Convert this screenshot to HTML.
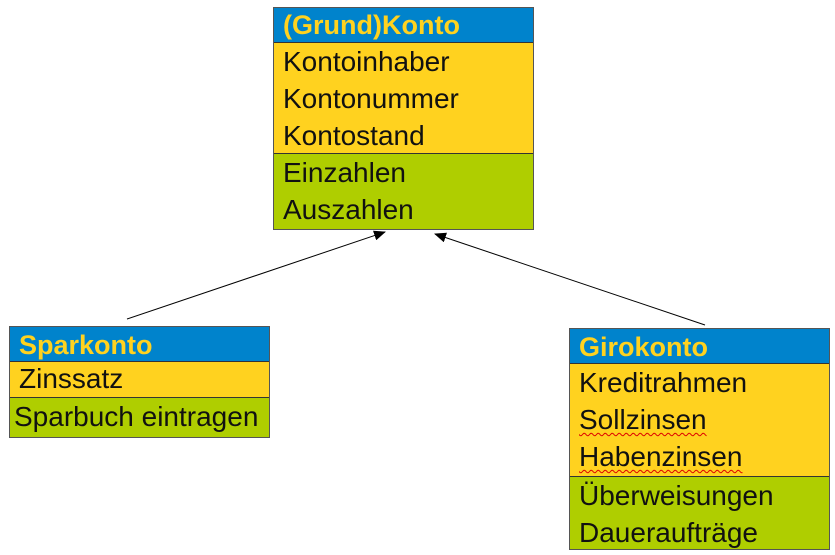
<!DOCTYPE html>
<html><head><meta charset="utf-8"><style>
body{margin:0;width:835px;height:555px;background:#fff;position:relative;overflow:hidden;font-family:"Liberation Sans",sans-serif}
.b{position:absolute;border:1.5px solid #555;box-sizing:border-box}
.r{position:absolute;left:0;right:0;box-sizing:border-box;padding-left:9px;font-size:28px;color:#111;white-space:nowrap}
.h{background:#0083cc;color:#ffd21f;font-weight:bold;border-bottom:1.5px solid #333;font-size:27px}
.y{background:#ffd21f;border-bottom:1.5px solid #333}
.g{background:#afce00}
.l{height:37px;line-height:37px}
.w{text-decoration:underline wavy #d00;text-decoration-thickness:1px;text-underline-offset:3px}
</style></head><body>
<svg width="835" height="555" style="position:absolute;left:0;top:0">
<defs><marker id="a" markerWidth="12" markerHeight="10" refX="11" refY="5" orient="auto" markerUnits="userSpaceOnUse"><path d="M0,0 L12,5 L0,10z" fill="#000"/></marker></defs>
<line x1="127" y1="319" x2="385" y2="232" stroke="#000" stroke-width="1" marker-end="url(#a)"/>
<line x1="705" y1="325" x2="435" y2="234" stroke="#000" stroke-width="1" marker-end="url(#a)"/>
</svg>

<div class="b" style="left:273px;top:7px;width:261px;height:223px">
 <div class="r h" style="top:0;height:35px;line-height:34px">(Grund)Konto</div>
 <div class="r y" style="top:35px;height:111px">
  <div class="l">Kontoinhaber</div><div class="l">Kontonummer</div><div class="l">Kontostand</div></div>
 <div class="r g" style="top:146px;bottom:0">
  <div class="l">Einzahlen</div><div class="l">Auszahlen</div></div>
</div>

<div class="b" style="left:9px;top:326px;width:261px;height:112px">
 <div class="r h" style="top:0;height:35px;line-height:36px">Sparkonto</div>
 <div class="r y" style="top:35px;height:36px;line-height:34px">Zinssatz</div>
 <div class="r g" style="top:71px;bottom:0;line-height:38px;padding-left:4px">Sparbuch eintragen</div>
</div>

<div class="b" style="left:569px;top:328px;width:261px;height:222px">
 <div class="r h" style="top:0;height:35px;line-height:36px">Girokonto</div>
 <div class="r y" style="top:35px;height:113px">
  <div class="l">Kreditrahmen</div><div class="l"><span class="w">Sollzinsen</span></div><div class="l"><span class="w">Habenzinsen</span></div></div>
 <div class="r g" style="top:148px;bottom:0">
  <div class="l">Überweisungen</div><div class="l">Daueraufträge</div></div>
</div>
</body></html>
